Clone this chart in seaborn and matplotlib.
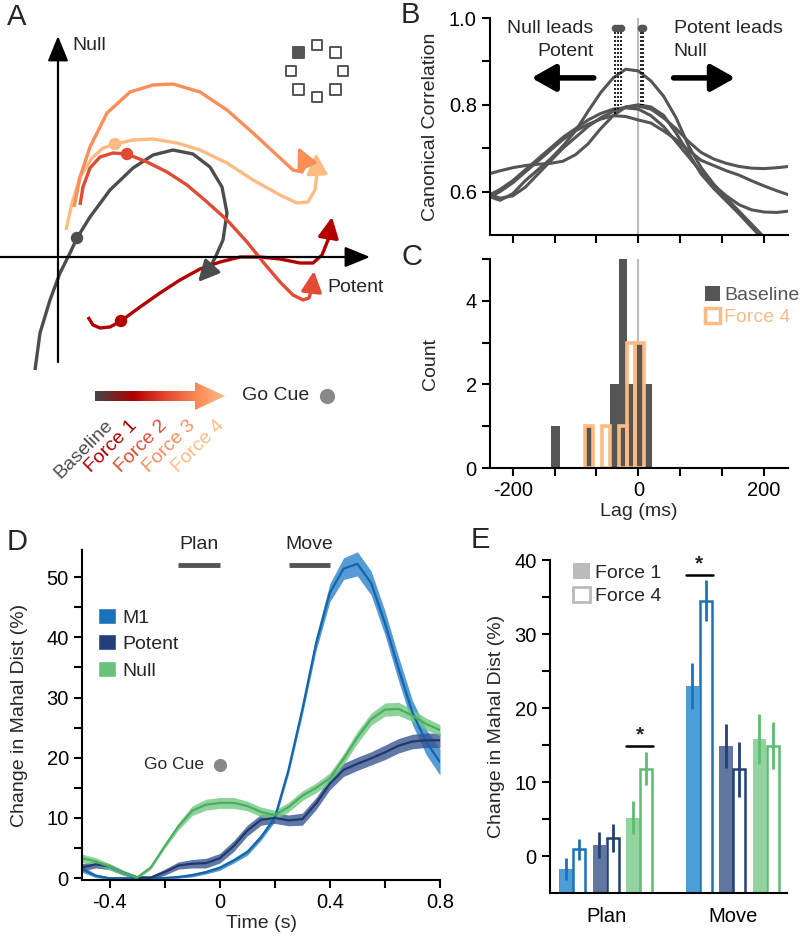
import numpy as np
import pandas as pd
import matplotlib
matplotlib.use("Agg")
import matplotlib.pyplot as plt
import seaborn as sns
from matplotlib.patches import Patch, FancyArrow
from matplotlib.colors import LinearSegmentedColormap

# ---------------- panel A: schematic trajectories (potent axis, null axis) ----------------
base_potent = [-23, -18, -8, 2, 12, 19, 32, 52, 75, 95, 115, 135, 152, 164, 169, 165, 157, 149]
base_null = [-113, -76, -43, -16, 4, 19, 40, 67, 89, 102, 107, 103, 90, 70, 44, 17, -1, -15]
base_tip = (140, -25)
f1_potent = [30, 35, 42, 52, 63, 82, 102, 122, 142, 162, 182, 202, 222, 242, 255, 264, 270]
f1_null = [-60, -68, -71, -70, -64, -50, -36, -23, -12, -5, 0, 0, -2, -6, -6, 2, 17]
f1_tip = (274, 40)
f2_potent = [22, 25, 32, 42, 55, 69, 89, 109, 129, 149, 169, 189, 205, 222, 235, 245, 251, 254]
f2_null = [52, 70, 89, 100, 104, 103, 95, 85, 72, 55, 37, 15, -5, -25, -38, -43, -41, -31]
f2_tip = (256, -14)
f3_potent = [16, 22, 32, 49, 72, 95, 115, 142, 169, 195, 222, 235, 244, 248]
f3_null = [50, 80, 110, 144, 165, 172, 173, 165, 147, 124, 99, 87, 85, 93]
f3_tip = (240, 110)
f4_potent = [8, 14, 22, 34, 45, 57, 75, 95, 119, 142, 169, 195, 222, 239, 250, 257, 259]
f4_null = [27, 54, 80, 99, 109, 113, 117, 118, 114, 107, 94, 77, 62, 54, 55, 67, 84]
f4_tip = (258, 104)
gocue_potent = [19, 63, 69, 57]
gocue_null = [19, -64, 103, 113]
cond_names = ["Baseline", "Force 1", "Force 2", "Force 3", "Force 4"]

# ---------------- panel B: canonical correlation vs lag ----------------
lags = [-240, -220, -200, -180, -160, -140, -120, -100, -80, -60, -40, -20, 0,
        20, 40, 60, 80, 100, 120, 140, 160, 180, 200, 220, 240]
cc1 = [0.59, 0.58, 0.595, 0.625, 0.65, 0.675, 0.705, 0.74, 0.785, 0.828, 0.862, 0.882, 0.878,
       0.855, 0.82, 0.77, 0.705, 0.655, 0.617, 0.585, 0.555, 0.525, 0.495, 0.465, 0.435]
cc2 = [0.64, 0.648, 0.655, 0.66, 0.663, 0.665, 0.67, 0.685, 0.71, 0.745, 0.775, 0.795, 0.80,
       0.795, 0.776, 0.735, 0.688, 0.64, 0.607, 0.578, 0.549, 0.518, 0.488, 0.46, 0.43]
cc3 = [0.59, 0.605, 0.625, 0.65, 0.675, 0.70, 0.725, 0.745, 0.765, 0.78, 0.79, 0.793, 0.79,
       0.775, 0.75, 0.715, 0.68, 0.645, 0.615, 0.59, 0.57, 0.558, 0.553, 0.552, 0.555]
cc4 = [0.585, 0.60, 0.62, 0.645, 0.67, 0.695, 0.72, 0.74, 0.755, 0.767, 0.775, 0.773, 0.765,
       0.758, 0.74, 0.72, 0.695, 0.672, 0.66, 0.648, 0.638, 0.625, 0.613, 0.602, 0.592]
cc5 = [0.595, 0.585, 0.59, 0.61, 0.64, 0.67, 0.70, 0.725, 0.75, 0.77, 0.785, 0.795, 0.797,
       0.79, 0.77, 0.745, 0.715, 0.69, 0.675, 0.665, 0.658, 0.654, 0.653, 0.655, 0.658]
peak_lags = [-37, -32, -27, 4, 8]
peak_vals = [0.777, 0.79, 0.80, 0.80, 0.80]

# ---------------- panel C: histogram of lags ----------------
hist_bins = [-138.6, -125.2, -111.8, -98.4, -85.0, -71.6, -58.2, -44.8, -31.4, -18.0, -4.6, 8.8, 22.2]
lag_baseline = [-132, -79, -38, -38, -24, -24, -24, -24, -24, -11, -11, 2, 2, 2, 16, 16]
lag_force4 = [-79, -52, -24, -11, -11, -11, 2, 2, 2]

# ---------------- panel D: change in Mahalanobis distance over time ----------------
time_s = [-0.5, -0.45, -0.4, -0.35, -0.3, -0.25, -0.2, -0.15, -0.1, -0.05, 0.0, 0.05, 0.1,
          0.15, 0.2, 0.25, 0.3, 0.35, 0.4, 0.45, 0.5, 0.55, 0.6, 0.65, 0.7, 0.75, 0.8]
m1_mean = [1.5, 0.4, 0.0, 0.0, 0.0, 0.0, 0.05, 0.2, 0.5, 1.0, 1.7, 2.9, 4.3, 6.8, 10.0, 18.0,
           28.0, 39.0, 47.4, 51.4, 52.2, 49.0, 42.4, 34.7, 27.5, 22.6, 19.3]
m1_sem = [0.5, 0.3, 0.2, 0.2, 0.2, 0.2, 0.2, 0.2, 0.3, 0.3, 0.4, 0.4, 0.5, 0.5, 0.6, 0.7,
          0.9, 1.2, 1.5, 1.8, 2.0, 2.0, 2.0, 2.0, 2.0, 2.1, 2.2]
pot_mean = [1.8, 2.3, 1.9, 0.9, 0.1, 0.1, 1.0, 2.1, 2.4, 2.5, 3.3, 5.3, 7.9, 9.7, 10.0, 9.6,
            9.8, 12.4, 15.7, 18.0, 19.0, 19.9, 20.9, 22.0, 22.7, 22.9, 22.9]
pot_sem = [0.6, 0.6, 0.5, 0.4, 0.3, 0.3, 0.5, 0.6, 0.7, 0.8, 0.8, 0.9, 0.9, 0.9, 0.9, 0.9,
           1.0, 1.0, 1.0, 1.1, 1.1, 1.1, 1.2, 1.2, 1.2, 1.2, 1.2]
null_mean = [3.3, 2.8, 1.9, 0.9, 0.1, 1.8, 5.3, 8.6, 11.2, 12.2, 12.5, 12.5, 12.0, 11.0, 10.5,
             11.8, 13.7, 15.0, 16.6, 19.8, 23.4, 26.4, 28.0, 28.1, 27.0, 25.6, 24.6]
null_sem = [0.7, 0.6, 0.5, 0.4, 0.3, 0.3, 0.4, 0.6, 0.8, 0.9, 0.9, 0.9, 0.8, 0.8, 0.8, 0.8,
            0.8, 0.8, 0.9, 0.9, 1.0, 1.0, 1.1, 1.1, 1.0, 1.0, 0.9]
go_cue_level = 18.8

# ---------------- panel E: bars (Plan, Move) ----------------
epochs = ["Plan", "Move"]
m1_f1 = [-1.8, 23.0]
m1_f1_err = [1.5, 3.1]
m1_f4 = [0.9, 34.5]
m1_f4_err = [1.4, 2.8]
pot_f1 = [1.5, 14.9]
pot_f1_err = [1.8, 3.0]
pot_f4 = [2.4, 11.7]
pot_f4_err = [1.9, 3.7]
null_f1 = [5.2, 15.8]
null_f1_err = [2.2, 3.4]
null_f4 = [11.8, 14.9]
null_f4_err = [2.2, 3.2]

# ---------------- style ----------------
sns.set_style("ticks")
plt.rcParams["font.family"] = ["Liberation Sans", "DejaVu Sans"]
plt.rcParams["font.size"] = 14
plt.rcParams["axes.unicode_minus"] = False
plt.rcParams["axes.linewidth"] = 1.5
for a in ("xtick", "ytick"):
    plt.rcParams[a + ".major.width"] = 1.5
    plt.rcParams[a + ".major.size"] = 6
    plt.rcParams[a + ".labelsize"] = 14.5
    plt.rcParams[a + ".color"] = "black"
plt.rcParams["axes.edgecolor"] = "black"
plt.rcParams["axes.labelsize"] = 14

W, H = 800, 941
fig = plt.figure(figsize=(W / 100, H / 100), dpi=100)


def rect(l, t, r, b):
    return [l / W, 1 - b / H, (r - l) / W, (b - t) / H]


cond_colors = ["#4d4d4d", "#b30000", "#e34a33", "#fc8d59", "#fdbb84"]
grey = "#555555"

# ======== A ========
ax = fig.add_axes(rect(0, 0, 400, 470))
ax.set_xlim(-58, 342)
ax.set_ylim(-213, 257)
ax.axis("off")
axis_arrow = dict(arrowstyle="-|>,head_length=1.1,head_width=0.45", color="k", lw=1.6,
                  shrinkA=0, shrinkB=0, mutation_scale=14)
ax.annotate("", xy=(0, 221), xytext=(0, -105), arrowprops=axis_arrow)
ax.annotate("", xy=(312, 0), xytext=(-58, 0), arrowprops=axis_arrow)
ax.text(14, 212, "Null", fontsize=14, va="center", ha="left")
ax.text(269, -30, "Potent", fontsize=14, va="center", ha="left")

trajs = [
    (f4_potent, f4_null, f4_tip, cond_colors[4]),
    (f3_potent, f3_null, f3_tip, cond_colors[3]),
    (base_potent, base_null, base_tip, cond_colors[0]),
    (f1_potent, f1_null, f1_tip, cond_colors[1]),
    (f2_potent, f2_null, f2_tip, cond_colors[2]),
]
for xs, ys, tip, c in trajs:
    ax.plot(xs, ys, color=c, lw=2.4, solid_joinstyle="round", solid_capstyle="butt")
    ax.annotate("", xy=tip, xytext=(xs[-1], ys[-1]),
                arrowprops=dict(arrowstyle="-|>,head_length=0.9,head_width=0.45", color=c,
                                lw=2.4, shrinkA=0, shrinkB=0, mutation_scale=14))
dot_cols = [cond_colors[0], cond_colors[1], cond_colors[2], cond_colors[4]]
ax.scatter(gocue_potent, gocue_null, s=80, c=dot_cols, zorder=5, linewidths=0)

# target icon
ang = np.deg2rad(np.arange(0, 360, 45))
tx = 259 + 26 * np.cos(ang)
ty = 186 + 26 * np.sin(ang)
fcs = ["white"] * 8
fcs[3] = "#555555"
ax.scatter(tx, ty, marker="s", s=55, facecolors=fcs, edgecolors="#555555", linewidths=1.4)

# gradient arrow
arrow = FancyArrow(37, -139, 130, 0, width=10, head_width=28, head_length=30,
                   length_includes_head=True, facecolor="none", edgecolor="none")
ax.add_patch(arrow)
cmap = LinearSegmentedColormap.from_list(
    "forces", [(0, "#454545"), (0.3, "#b00000"), (0.55, "#e34a33"), (0.8, "#fc8d59"), (1, "#fdbb84")])
im = ax.imshow(np.linspace(0, 1, 256).reshape(1, -1), extent=[37, 167, -153, -125],
               cmap=cmap, aspect="auto", zorder=3)
im.set_clip_path(arrow)
ax.set_xlim(-58, 342)
ax.set_ylim(-213, 257)
label_x = [52, 77, 107, 135, 164]
for lx, name, c in zip(label_x, cond_names, cond_colors):
    ax.text(lx, -166, name, color=c, fontsize=14, rotation=45, rotation_mode="anchor",
            ha="right", va="center")
ax.text(184, -138, "Go Cue", fontsize=14, va="center", ha="left")
ax.scatter([269], [-139], s=120, color="#888888", linewidths=0)

# ======== B ========
axb = fig.add_axes(rect(490, 18, 788, 235))
curves = [cc1, cc2, cc3, cc4, cc5]
b_df = pd.DataFrame({
    "lag": lags * len(curves),
    "cc": sum(curves, []),
    "curve": np.repeat(np.arange(len(curves)), len(lags)),
})
axb.axvline(0, color="#bdbdbd", lw=1.5, zorder=0)
sns.lineplot(data=b_df, x="lag", y="cc", units="curve", estimator=None, color=grey,
             lw=2.2, ax=axb)
for lg, pv in zip(peak_lags, peak_vals):
    axb.plot([lg, lg], [0.978, pv], color="k", ls=(0, (1.2, 1.2)), lw=1.2)
axb.scatter(peak_lags, [0.978] * len(peak_lags), s=30, color=grey, zorder=5, clip_on=False,
            linewidths=0)
axb.set_xlim(-236, 238)
axb.set_ylim(0.5, 1.0)
lag_ticks = np.linspace(-200, 200, 7)
axb.set_xticks(lag_ticks)
axb.set_xticklabels([])
axb.set_yticks([0.6, 0.7, 0.8, 0.9, 1.0])
axb.set_yticklabels(["0.6", "", "0.8", "", "1.0"])
axb.set_xlabel("")
axb.set_ylabel("Canonical Correlation")
axb.yaxis.set_label_coords(-0.17, 0.5)
sns.despine(ax=axb)
axb.text(-71, 0.995, "Null leads\nPotent", ha="right", va="top", fontsize=14, linespacing=1.45)
axb.text(56, 0.995, "Potent leads\nNull", ha="left", va="top", fontsize=14, linespacing=1.45)
big_arrow = dict(arrowstyle="-|>,head_length=0.8,head_width=0.45", color="k", lw=4,
                 shrinkA=0, shrinkB=0, mutation_scale=18)
axb.annotate("", xy=(-170, 0.862), xytext=(-71, 0.862), arrowprops=big_arrow)
axb.annotate("", xy=(154, 0.862), xytext=(56, 0.862), arrowprops=big_arrow)

# ======== C ========
axc = fig.add_axes(rect(490, 259, 788, 468))
axc.axvline(0, color="#bdbdbd", lw=1.5, zorder=0)
sns.histplot(x=lag_baseline, bins=hist_bins, color=grey, alpha=1, edgecolor="none",
             linewidth=0, ax=axc)
sns.histplot(x=lag_force4, bins=hist_bins, fill=False, color="#fdbb84", linewidth=2.6,
             element="bars", ax=axc)
for p in list(axc.patches):
    if p.get_height() == 0:
        p.remove()
axc.set_xlim(-236, 238)
axc.set_ylim(0, 5)
axc.set_xticks(lag_ticks)
axc.set_xticklabels(["-200", "", "", "0", "", "", "200"])
axc.set_yticks([0, 1, 2, 3, 4, 5])
axc.set_yticklabels(["0", "", "2", "", "4", ""])
axc.set_xlabel("Lag (ms)", labelpad=2)
axc.set_ylabel("Count")
axc.yaxis.set_label_coords(-0.17, 0.5)
sns.despine(ax=axc)
axc.legend(handles=[Patch(facecolor=grey, edgecolor="none"),
                    Patch(facecolor="white", edgecolor="#fdbb84", lw=2.5)],
           labels=["Baseline", "Force 4"], labelcolor=[grey, "#fdbb84"],
           loc="upper left", bbox_to_anchor=(0.72, 0.87), frameon=False,
           handlelength=0.8, handleheight=0.8, handletextpad=0.2, labelspacing=0.2,
           borderpad=0, borderaxespad=0, fontsize=14)

# ======== D ========
axd = fig.add_axes(rect(82, 550, 440, 880))
series = [
    ("M1", m1_mean, m1_sem, "#1565ad", "#2a82cb"),
    ("Potent", pot_mean, pot_sem, "#1d3a6e", "#3b5690"),
    ("Null", null_mean, null_sem, "#4caf60", "#72c783"),
]
for name, mean, sem, lc, bc in series:
    mean = np.array(mean)
    sem = np.array(sem)
    axd.fill_between(time_s, mean - sem, mean + sem, color=bc, alpha=0.8, lw=0)
    sns.lineplot(x=time_s, y=mean, color=lc, lw=1.6, ax=axd)
axd.set_xlim(-0.5, 0.8)
axd.set_ylim(-0.3, 54.5)
axd.set_xticks([-0.4, -0.2, 0, 0.2, 0.4, 0.6, 0.8])
axd.set_xticklabels(["-0.4", "", "0", "", "0.4", "", "0.8"])
axd.set_yticks(np.arange(0, 51, 5))
axd.set_yticklabels([str(v) if v % 10 == 0 else "" for v in range(0, 51, 5)])
axd.set_xlabel("Time (s)", labelpad=2)
axd.set_ylabel("Change in Mahal Dist (%)")
axd.yaxis.set_label_coords(-0.15, 0.5)
sns.despine(ax=axd)
axd.plot([-0.15, 0], [52, 52], color=grey, lw=3.5, solid_capstyle="butt", clip_on=False)
axd.plot([0.25, 0.4], [52, 52], color=grey, lw=3.5, solid_capstyle="butt", clip_on=False)
axd.text(-0.075, 54, "Plan", ha="center", va="bottom", fontsize=14)
axd.text(0.325, 54, "Move", ha="center", va="bottom", fontsize=14)
axd.text(-0.058, go_cue_level, "Go Cue", ha="right", va="center", fontsize=12.5)
axd.scatter([0], [go_cue_level], s=90, color="#888888", linewidths=0, zorder=5)
axd.legend(handles=[Patch(facecolor="#1a73ba"), Patch(facecolor="#233f78"),
                    Patch(facecolor="#68c27a")],
           labels=["M1", "Potent", "Null"], loc="upper left", bbox_to_anchor=(0.045, 0.825),
           frameon=False, handlelength=0.9, handleheight=0.9, handletextpad=0.35,
           labelspacing=0.4, borderpad=0, borderaxespad=0, fontsize=14)

# ======== E ========
axe = fig.add_axes(rect(550, 560, 787, 893))
floor = -5
bar_w = 0.107
groups = np.arange(len(epochs))
area_sets = [
    (m1_f1, m1_f1_err, m1_f4, m1_f4_err, "#1a73ba", "#4d9dd7"),
    (pot_f1, pot_f1_err, pot_f4, pot_f4_err, "#233f78", "#61779f"),
    (null_f1, null_f1_err, null_f4, null_f4_err, "#5cbd6f", "#93d39f"),
]
pair_centers = {}
for i, (f1, f1e, f4, f4e, col, light) in enumerate(area_sets):
    off = (i - 1) * 0.265
    x1 = groups + off - bar_w / 2
    x4 = groups + off + bar_w / 2
    pair_centers[i] = groups + off
    axe.bar(x1, np.array(f1) - floor, bottom=floor, width=bar_w, color=light, edgecolor="none")
    axe.errorbar(x1, f1, yerr=f1e, fmt="none", ecolor=col, elinewidth=2, capsize=0)
    axe.bar(x4, np.array(f4) - floor, bottom=floor, width=bar_w - 0.012, facecolor="white",
            edgecolor=col, lw=1.8)
    axe.errorbar(x4, f4, yerr=f4e, fmt="none", ecolor=col, elinewidth=2, capsize=0)
# significance markers
for gi, area, y in [(0, 2, 14.9), (1, 0, 38.0)]:
    c = pair_centers[area][gi]
    axe.plot([c - bar_w, c + bar_w], [y, y], color="k", lw=1.8)
    axe.text(c, y + 0.2, "*", ha="center", va="bottom", fontsize=15, fontweight="bold")
axe.set_xlim(-0.444, 1.43)
axe.set_ylim(floor, 40)
axe.set_xticks(groups)
axe.set_xticklabels(epochs)
axe.tick_params(axis="x", length=0, pad=10)
axe.set_yticks(np.arange(0, 41, 5))
axe.set_yticklabels([str(v) if v % 10 == 0 else "" for v in range(0, 41, 5)])
axe.set_ylabel("Change in Mahal Dist (%)")
axe.yaxis.set_label_coords(-0.19, 0.5)
sns.despine(ax=axe)
axe.legend(handles=[Patch(facecolor="#bbbbbb", edgecolor="none"),
                    Patch(facecolor="white", edgecolor="#bbbbbb", lw=2)],
           labels=["Force 1", "Force 4"], loc="upper left", bbox_to_anchor=(0.097, 0.99),
           frameon=False, handlelength=0.85, handleheight=0.85, handletextpad=0.3,
           labelspacing=0.25, borderpad=0, borderaxespad=0, fontsize=14)

# panel letters
for letter, px, py in [("A", 17, 17), ("B", 410, 15), ("C", 412, 257), ("D", 17, 542),
                       ("E", 480, 540)]:
    fig.text(px / W, 1 - py / H, letter, fontsize=21, ha="center", va="center")

fig.savefig("out.png", dpi=100)
